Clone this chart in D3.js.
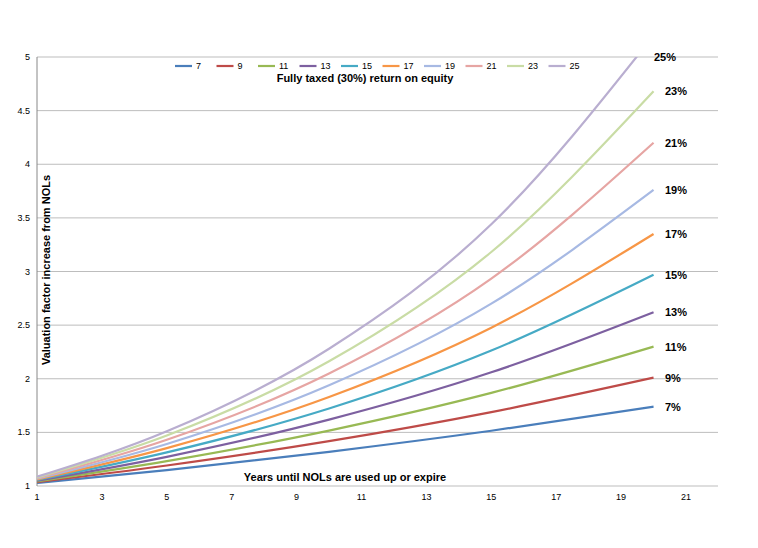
<!DOCTYPE html><html><head><meta charset="utf-8"><script src="https://cdn.jsdelivr.net/npm/d3@7"></script>
<style>body{margin:0;background:#fff}text{font-family:"Liberation Sans",Arial,sans-serif}</style></head><body><svg id="c" width="758" height="548"></svg><script>
const years=[1,5,10,15,20];
const rates=["7","9","11","13","15","17","19","21","23","25"];
const v7=[1.028,1.148,1.319,1.515,1.74];
const v9=[1.036,1.191,1.418,1.689,2.01];
const v11=[1.043,1.232,1.517,1.868,2.30];
const v13=[1.049,1.272,1.619,2.060,2.62];
const v15=[1.056,1.313,1.723,2.263,2.97];
const v17=[1.062,1.353,1.830,2.476,3.35];
const v19=[1.068,1.392,1.939,2.700,3.76];
const v21=[1.074,1.431,2.049,2.933,4.20];
const v23=[1.080,1.470,2.163,3.182,4.68];
const v25=[1.086,1.510,2.280,3.44,5.2];
const series=[v7,v9,v11,v13,v15,v17,v19,v21,v23,v25];
const colors=["#4a7ebb","#be4b48","#98b954","#7d60a0","#46aac5","#f79646","#a7b9e3","#e6a5a3","#c9dca5","#b9aed0"];
const xTicks=[1,3,5,7,9,11,13,15,17,19,21];
const yTicks=[1,1.5,2,2.5,3,3.5,4,4.5,5];
const svg=d3.select("#c");
const x=d3.scaleLinear().domain([1,21]).range([37,686]);
const y=d3.scaleLinear().domain([1,5]).range([486,57]);
svg.append("defs").append("clipPath").attr("id","cl").append("rect").attr("x",37).attr("y",57).attr("width",680).attr("height",430);
svg.selectAll(".g").data(yTicks).join("line").attr("x1",37).attr("x2",718).attr("y1",d=>y(d)).attr("y2",d=>y(d)).attr("stroke","#bdbdbd").attr("stroke-width",1);
svg.append("line").attr("x1",37).attr("x2",37).attr("y1",57).attr("y2",486).attr("stroke","#888");
svg.selectAll(".yt").data(yTicks).join("text").attr("x",30).attr("y",d=>y(d)+3).attr("text-anchor","end").attr("font-size",9).text(d=>d);
svg.selectAll(".xt").data(xTicks).join("text").attr("x",d=>x(d)).attr("y",500).attr("text-anchor","middle").attr("font-size",9).text(d=>d);
const line=d3.line().x((d,i)=>x(years[i])).y(d=>y(d)).curve(d3.curveMonotoneX);
const g=svg.append("g").attr("clip-path","url(#cl)");
series.forEach((s,i)=>g.append("path").attr("d",line(s)).attr("fill","none").attr("stroke",colors[i]).attr("stroke-width",2.2));
series.forEach((s,i)=>svg.append("text").attr("x",i==9?654:665).attr("y",Math.max(y(s[4]),y(5))+4).attr("font-size",11).attr("font-weight","bold").text(rates[i]+"%"));
const lg=svg.append("g");
rates.forEach((r,i)=>{const lx=175+i*41.5;lg.append("line").attr("x1",lx).attr("x2",lx+17).attr("y1",66).attr("y2",66).attr("stroke",colors[i]).attr("stroke-width",2.2);lg.append("text").attr("x",lx+21).attr("y",69).attr("font-size",9).text(r);});
svg.append("text").attr("x",365).attr("y",82).attr("text-anchor","middle").attr("font-size",11).attr("font-weight","bold").text("Fully taxed (30%) return on equity");
svg.append("text").attr("transform","translate(50,270) rotate(-90)").attr("text-anchor","middle").attr("font-size",11).attr("font-weight","bold").text("Valuation factor increase from NOLs");
svg.append("text").attr("x",345).attr("y",481).attr("text-anchor","middle").attr("font-size",11).attr("font-weight","bold").text("Years until NOLs are used up or expire");
</script></body></html>
